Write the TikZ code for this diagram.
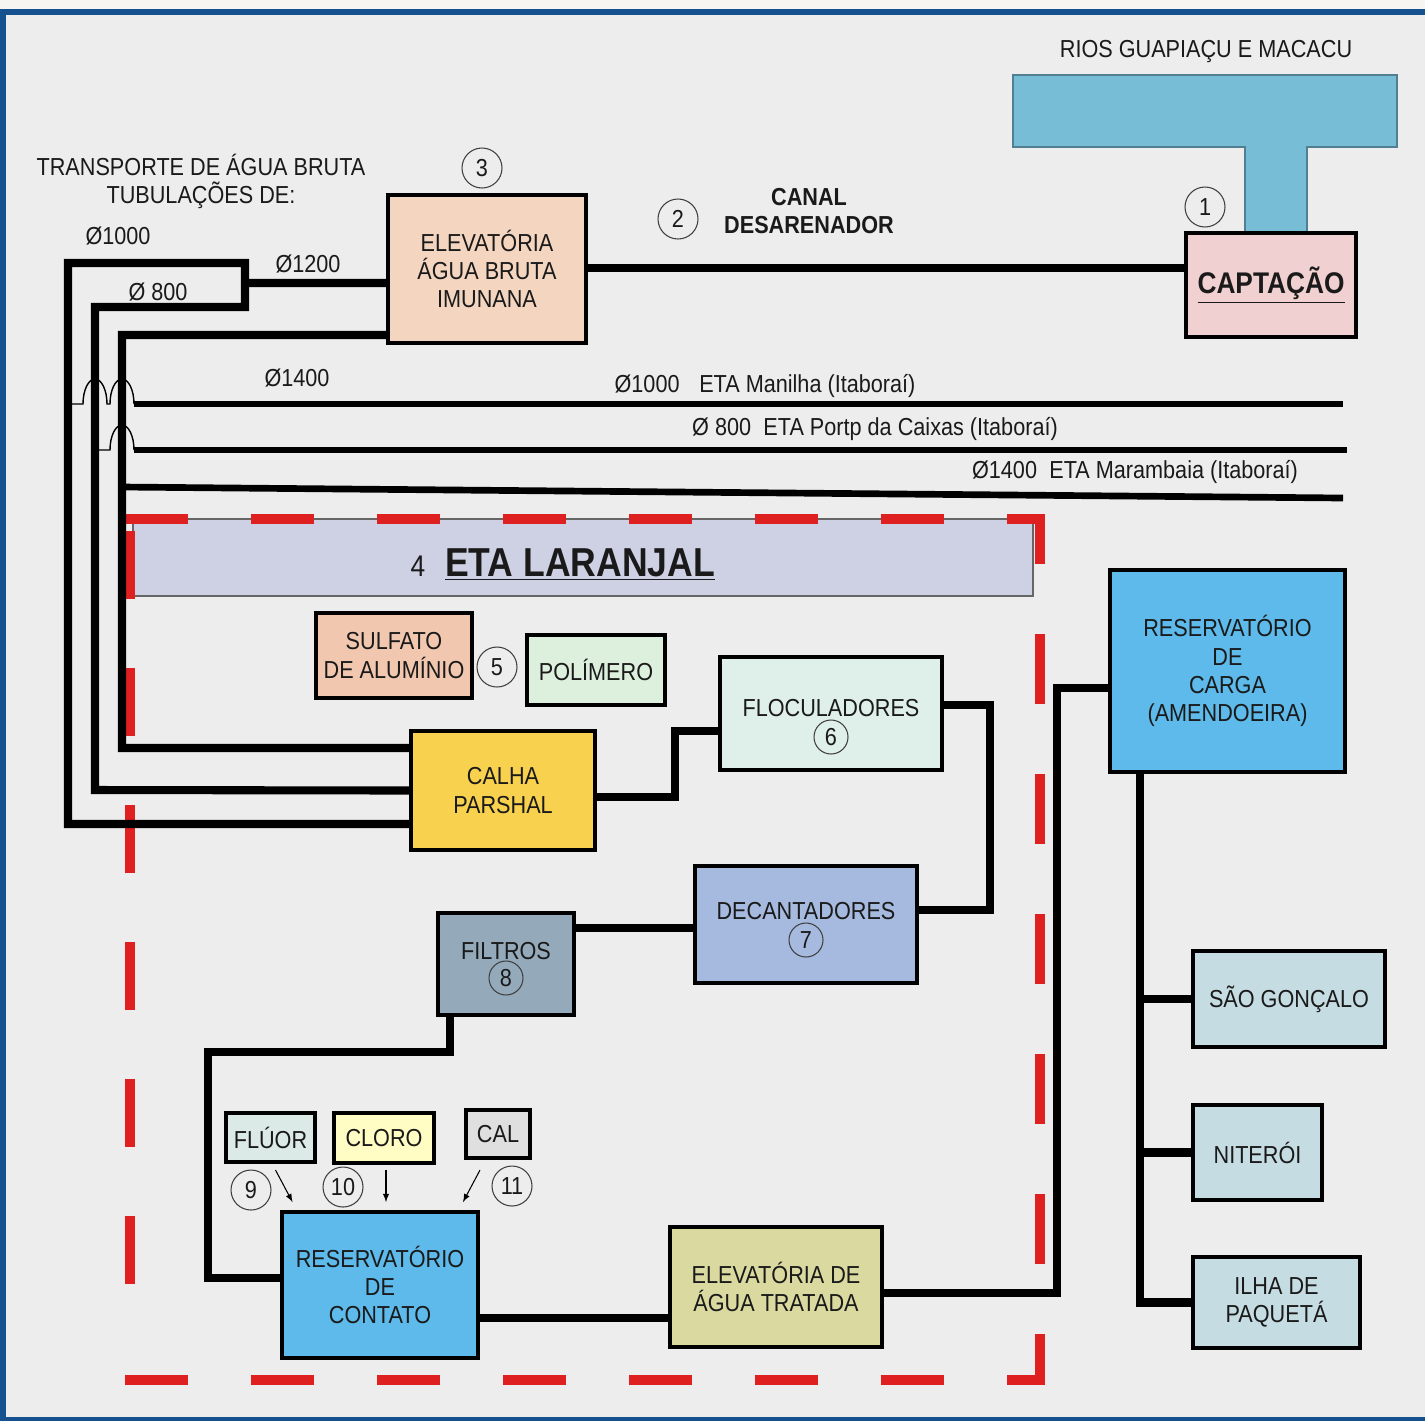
\documentclass[tikz,border=0pt]{standalone}
\usepackage{fontspec}
\setmainfont{Liberation Sans}[FakeStretch=0.88]
\usepackage{tikz}
\usetikzlibrary{positioning,arrows}

\definecolor{page}{HTML}{EDEDED}
\definecolor{strip}{HTML}{F6F5F1}
\definecolor{frameblue}{HTML}{15508F}
\definecolor{ink}{HTML}{1A1A1A}
\definecolor{river}{HTML}{76BDD5}
\definecolor{riverline}{HTML}{4F7F90}
\definecolor{captfill}{HTML}{F0D0D0}
\definecolor{elevfill}{HTML}{F4D5C0}
\definecolor{bandfill}{HTML}{CED0E4}
\definecolor{sulffill}{HTML}{F1C7AF}
\definecolor{polifill}{HTML}{DDEFDD}
\definecolor{flocfill}{HTML}{DFEFEA}
\definecolor{calhafill}{HTML}{F8D24E}
\definecolor{decanfill}{HTML}{A6BADF}
\definecolor{filtfill}{HTML}{94AABB}
\definecolor{fluorfill}{HTML}{DCEAE7}
\definecolor{clorofill}{HTML}{FFFDC3}
\definecolor{calfill}{HTML}{DFDFDF}
\definecolor{resfill}{HTML}{5DBAEA}
\definecolor{elevtfill}{HTML}{D9D9A0}
\definecolor{cityfill}{HTML}{C6DCE3}
\definecolor{dashred}{HTML}{DE2020}

\begin{document}
\begin{tikzpicture}[
    x=0.02cm, y=-0.02cm,
    % define styles
    box/.style={
        draw=black,
        line width=2.3pt,
        align=center,
        inner sep=1pt,
        text=ink,
        font=\fontsize{14}{16}\selectfont
    },
    num/.style={
        draw=black!75,
        circle,
        line width=0.6pt,
        minimum size=0.8cm,
        inner sep=0pt,
        text=ink,
        font=\fontsize{14}{16}\selectfont
    },
    lbl/.style={
        inner sep=0pt,
        align=center,
        text=ink,
        font=\fontsize{14}{16}\selectfont
    },
    redframe/.style={
        draw=dashred,
        line width=5.7pt
    },
    pipe/.style={line width=4.6pt},
    outpipe/.style={line width=3.8pt},
    hop/.style={line width=0.8pt},
    dose/.style={-latex, line width=0.6pt}
]
% Background and frame
\useasboundingbox (0,0) rectangle (1425,1421);
\fill[page] (0,0) rectangle (1425,1421);
\fill[strip] (0,0) rectangle (1425,9);
\fill[frameblue] (0,9) rectangle (1425,15);
\fill[frameblue] (0,9) rectangle (6,1421);
\fill[frameblue] (0,1417) rectangle (1425,1421);

% Rivers and intake
\node[lbl] (rios) at (1206,52) {RIOS GUAPIAÇU E MACACU};
\filldraw[fill=river, draw=riverline, line width=0.8pt] (1013,75) -- (1397,75) -- (1397,147) -- (1307,147)
    -- (1307,235) -- (1245,235) -- (1245,147) -- (1013,147) -- cycle;
\node[box, fill=captfill, minimum width=3.4cm, minimum height=2.08cm,
    font=\fontsize{17}{19}\selectfont\bfseries] (capt) at (1271,285) {\raisebox{-0.08cm}{\underline{CAPTAÇÃO}}};
\node[num] (c1) at (1205,207) {1};
\node[num] (c2) at (678,219) {2};
\node[lbl, font=\fontsize{14}{16}\selectfont\bfseries] (canal) at (809,211) {CANAL\\DESARENADOR};

% Raw water pumping station
\node[box, fill=elevfill, minimum width=3.96cm, minimum height=2.96cm] (elev) at (487,269) {ELEVATÓRIA\\ÁGUA BRUTA\\IMUNANA};
\node[num] (c3) at (482,168) {3};
\draw[pipe] ([yshift=0.02cm]elev.east) -- ([yshift=0.02cm]elev.east -| capt.west);

% Raw water mains
\node[lbl] (transp) at (201,181) {TRANSPORTE DE ÁGUA BRUTA\\TUBULAÇÕES DE:};
\node[lbl] (d1000) at (118,236) {Ø1000};
\node[lbl] (d1200) at (308,264) {Ø1200};
\node[lbl] (d800) at (158,292) {Ø 800};
\node[lbl] (d1400) at (297,378) {Ø1400};

% ETA Laranjal band and dashed boundary
\node[draw=black!60, line width=0.8pt, fill=bandfill, minimum width=18cm, minimum height=1.54cm, inner sep=0pt] (band) at (583,557.5) {};
\node[lbl, font=\fontsize{17}{19}\selectfont] (n4) at (418,566) {4};
\node[lbl, font=\fontsize{23}{26}\selectfont\bfseries, base right=0.38cm of n4] (eta) {\underline{ETA LARANJAL}};
\draw[redframe, dash pattern=on 1.26cm off 1.26cm] (125,519) -- (1045,519);
\draw[redframe, dash pattern=on 1.26cm off 1.26cm] (125,1380) -- (1045,1380);
\draw[redframe, dash pattern=on 1.36cm off 1.38cm, dash phase=2.5cm] (130,519) -- (130,1350);
\draw[redframe, dash pattern=on 1.4cm off 1.4cm, dash phase=0.5cm] (1040,519) -- (1040,1380);

% Chemicals and treatment units
\node[box, fill=sulffill, minimum width=3.12cm, minimum height=1.7cm] (sulf) at (394,655.5) {SULFATO\\DE ALUMÍNIO};
\node[num] (c5) at (497,667) {5};
\node[box, fill=polifill, minimum width=2.76cm, minimum height=1.4cm] (poli) at (596,670) {POLÍMERO};
\node[box, fill=calhafill, minimum width=3.68cm, minimum height=2.38cm] (calha) at (503,790.5) {CALHA\\PARSHAL};
\node[box, fill=flocfill, minimum width=4.44cm, minimum height=2.26cm,
    label={[lbl, yshift=0.11cm]center:FLOCULADORES}] (floc) at (831,713.5) {};
\node[num, minimum size=0.68cm] (c6) at ([yshift=-0.47cm]floc.center) {6};
\node[box, fill=decanfill, minimum width=4.44cm, minimum height=2.34cm,
    label={[lbl, yshift=0.27cm]center:DECANTADORES}] (decan) at (806,924.5) {};
\node[num, minimum size=0.68cm] (c7) at ([yshift=-0.31cm]decan.center) {7};
\node[box, fill=filtfill, minimum width=2.72cm, minimum height=2.04cm,
    label={[lbl, yshift=0.26cm]center:FILTROS}] (filt) at (506,964) {};
\node[num, minimum size=0.68cm] (c8) at ([yshift=-0.28cm]filt.center) {8};

% Contact reservoir and dosing
\node[box, fill=fluorfill, minimum width=1.78cm, minimum height=0.98cm] (fluor) at (270.5,1137.5) {FLÚOR};
\node[box, fill=clorofill, minimum width=2cm, minimum height=1cm] (cloro) at (384,1138) {CLORO};
\node[box, fill=calfill, minimum width=1.28cm, minimum height=0.96cm] (cal) at (498,1134) {CAL};
\node[num] (c9) at (251,1190) {9};
\node[num] (c10) at (343,1187) {10};
\node[num] (c11) at (512,1186) {11};
\node[box, fill=resfill, minimum width=3.92cm, minimum height=2.92cm] (rcont) at (380,1285) {RESERVATÓRIO\\DE\\CONTATO};
\node[box, fill=elevtfill, minimum width=4.24cm, minimum height=2.4cm] (elevt) at (776,1287) {ELEVATÓRIA DE\\ÁGUA TRATADA};

% Distribution
\node[box, fill=resfill, minimum width=4.7cm, minimum height=4.04cm] (rcarga) at (1227.5,671) {RESERVATÓRIO\\DE\\CARGA\\(AMENDOEIRA)};
\node[box, fill=cityfill, minimum width=3.84cm, minimum height=1.92cm] (sg) at (1289,999) {SÃO GONÇALO};
\node[box, fill=cityfill, minimum width=2.58cm, minimum height=1.9cm] (nit) at (1257.5,1152.5) {NITERÓI};
\node[box, fill=cityfill, minimum width=3.34cm, minimum height=1.82cm] (ilha) at (1276.5,1302.5) {ILHA DE\\PAQUETÁ};

% Pipes from the pumping station to the Parshal flume
\coordinate (split) at (245,283);
\draw[pipe] ([yshift=-0.28cm]elev.west) -- (split);
\draw[pipe] (split) -- (245,263) -- (68,263) -- (68,824) -- ([yshift=-0.67cm]calha.west);
\draw[pipe] (split) -- (245,307) -- (95,307) -- (95,790) -- (calha.west);
\draw[pipe] ([yshift=-1.32cm]elev.west) -- (122,335) -- (122,748) -- ([yshift=0.85cm]calha.west);

% Outlets to the other plants
\coordinate (tap1) at (68,404);
\coordinate (tap2) at (95,450);
\coordinate (tap3) at (122,487);
\coordinate (out1) at (1343,404);
\coordinate (out2) at (1347,450);
\coordinate (out3) at (1343,498);
\draw[hop] (tap1) -- ++(15,0) arc[start angle=180, end angle=0, x radius=0.24cm, y radius=0.5cm]
    -- ++(3,0) arc[start angle=180, end angle=0, x radius=0.24cm, y radius=0.5cm] coordinate (hop1);
\draw[outpipe] (hop1) -- (out1);
\draw[hop] (tap2) -- ++(15,0) arc[start angle=180, end angle=0, x radius=0.24cm, y radius=0.5cm] coordinate (hop2);
\draw[outpipe] (hop2) -- (out2);
\draw[outpipe] (tap3) -- (out3);
\node[lbl] (man) at (765,386) {Ø1000\hspace{0.8em}ETA Manilha (Itaboraí)};
\node[lbl] (cax) at (875,429) {Ø 800\hspace{0.5em}ETA Portp da Caixas (Itaboraí)};
\node[lbl] (mar) at (1135,472) {Ø1400\hspace{0.5em}ETA Marambaia (Itaboraí)};

% Treatment line
\draw[pipe] ([yshift=-0.13cm]calha.east) -- ++(78,0) |- ([yshift=-0.35cm]floc.west);
\draw[pipe] ([yshift=0.17cm]floc.east) -- ++(46,0) |- ([yshift=0.29cm]decan.east);
\draw[pipe] ([yshift=0.72cm]filt.east) -- ([yshift=0.72cm]filt.east -| decan.west);
\coordinate (bend) at (208,1052);
\draw[pipe] ([xshift=-1.12cm]filt.south) |- (bend) |- ([yshift=0.14cm]rcont.west);
\draw[pipe] ([yshift=-0.66cm]rcont.east) -- ([yshift=-0.66cm]rcont.east -| elevt.west);
\draw[pipe] ([yshift=-0.12cm]elevt.east) -- ++(173,0) |- ([yshift=-0.34cm]rcarga.west);

% Dosing arrows
\draw[dose] ([xshift=0.1cm,yshift=-0.12cm]fluor.south) -- ++(17,32);
\draw[dose] ([xshift=0.04cm,yshift=-0.1cm]cloro.south) -- ++(0,32);
\draw[dose] ([xshift=-0.36cm,yshift=-0.2cm]cal.south) -- ++(-17,32);

% Distribution trunk
\coordinate (trunk) at ([xshift=-1.75cm]rcarga.south);
\draw[pipe] (trunk) |- (ilha.west);
\draw[pipe] (trunk |- sg.west) -- (sg.west);
\draw[pipe] (trunk |- nit.west) -- (nit.west);
\end{tikzpicture}
\end{document}
